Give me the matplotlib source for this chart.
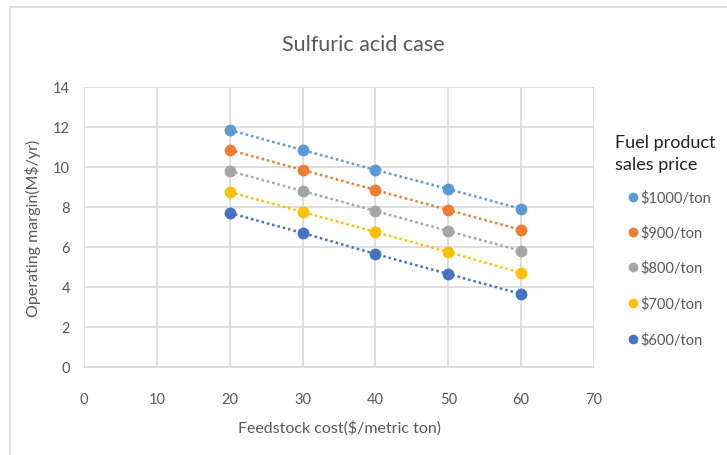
import matplotlib
matplotlib.use("Agg")
import matplotlib.pyplot as plt
from matplotlib.lines import Line2D
from matplotlib.patches import Rectangle

plt.rcParams['font.family'] = ['Lato', 'DejaVu Sans']

feedstock_cost = [20, 30, 40, 50, 60]
series_labels = ["$1000/ton", "$900/ton", "$800/ton", "$700/ton", "$600/ton"]
series_values = [
    [11.85, 10.85, 9.85, 8.9, 7.9],
    [10.85, 9.85, 8.85, 7.85, 6.85],
    [9.8, 8.8, 7.8, 6.8, 5.8],
    [8.75, 7.75, 6.75, 5.75, 4.7],
    [7.7, 6.7, 5.65, 4.65, 3.65],
]
colors = ["#5B9BD5", "#ED7D31", "#A5A5A5", "#FFC000", "#4472C4"]
x_ticks = [0, 10, 20, 30, 40, 50, 60, 70]
y_ticks = [0, 2, 4, 6, 8, 10, 12, 14]

fig = plt.figure(figsize=(7.27, 4.56), dpi=100)
fig.patch.set_facecolor("white")
# chart-area border
fig.add_artist(Rectangle((10/727, -0.05), 1.0, (456-8)/456 + 0.05, transform=fig.transFigure,
                         fill=False, edgecolor="#d9d9d9", linewidth=1.2))

ax = fig.add_axes([84/727, (456-368)/456, (594-84)/727, (368-88)/456])
text_color = "#595959"
for vals, c, lab in zip(series_values, colors, series_labels):
    ax.plot(feedstock_cost, vals, linestyle=(0, (1, 1.2)), color=c, linewidth=1.8,
            marker="o", markersize=7.5, markeredgecolor=c, markerfacecolor=c, label=lab)

ax.set_xlim(0, 70)
ax.set_ylim(0, 14)
ax.set_xticks(x_ticks)
ax.set_yticks(y_ticks)
ax.grid(True, color="#d9d9d9", linewidth=1.2)
ax.set_axisbelow(True)
for s in ["top", "right", "left"]:
    ax.spines[s].set_visible(False)
ax.spines["bottom"].set_color("#d9d9d9")
ax.spines["bottom"].set_linewidth(1.2)
ax.tick_params(length=0, colors=text_color, labelsize=10.5)
ax.tick_params(axis="x", pad=18)
ax.tick_params(axis="y", pad=10)
ax.set_xlabel("Feedstock cost($/metric ton)", color=text_color, fontsize=11.5, labelpad=10)
ax.set_ylabel("Operating margin(M$/yr)", color=text_color, fontsize=11.5, labelpad=9)

fig.text(363/727, 1 - 45/456, "Sulfuric acid case", ha="center", va="center",
         fontsize=15.5, color=text_color)

fig.text(615/727, 1 - 154/456, "Fuel product\nsales price", ha="left", va="center",
         fontsize=13, color="#222222", linespacing=1.45)
ys = [198, 233, 268, 304, 340]
for y, c, lab in zip(ys, colors, series_labels):
    fig.add_artist(Line2D([633/727], [1 - y/456], transform=fig.transFigure, marker="o",
                          markersize=6, color=c, linestyle="none"))
    fig.text(640/727, 1 - y/456, lab, ha="left", va="center", fontsize=10.5, color=text_color)

fig.savefig("out.png", dpi=100)
